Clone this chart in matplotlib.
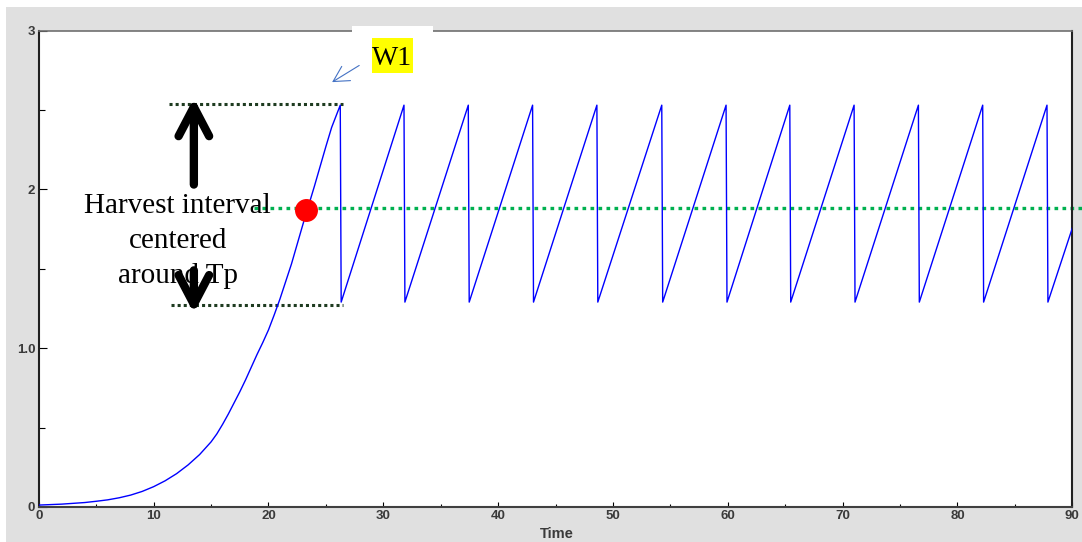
import matplotlib
matplotlib.use("Agg")
import matplotlib.pyplot as plt
from matplotlib.patches import Rectangle, FancyArrowPatch

# growth phase (time, biomass)
grow_t = [0, 1, 2, 3, 4, 5, 6, 7, 8, 9, 10, 11, 12, 13, 14, 14.5, 15, 15.5, 16, 16.5,
          17, 17.5, 18, 18.5, 19, 19.5, 20, 20.5, 21, 21.5, 22, 22.5, 23, 23.5, 24,
          24.5, 25, 25.5, 26.25]
grow_y = [0.012, 0.015, 0.018, 0.023, 0.028, 0.036, 0.045, 0.058, 0.075, 0.098, 0.128,
          0.165, 0.21, 0.265, 0.33, 0.37, 0.41, 0.46, 0.52, 0.585, 0.655, 0.725, 0.80,
          0.88, 0.96, 1.035, 1.115, 1.21, 1.31, 1.42, 1.53, 1.655, 1.78, 1.90, 2.02,
          2.145, 2.27, 2.39, 2.53]
# harvest times (peaks), upper and lower harvest level
harvest_t = [26.25, 31.8, 37.4, 43.0, 48.6, 54.25, 59.85, 65.4, 71.0, 76.6, 82.2, 87.8]
w_top = 2.53
w_low = 1.29
end_t, end_y = 90, 1.755
tp_level = 1.883
tp_point = (23.3, 1.87)
band_top, band_low = 2.535, 1.27

# build the sawtooth after the growth phase
t_all = list(grow_t)
y_all = list(grow_y)
for i, tp in enumerate(harvest_t):
    t_all.append(tp + 0.08)
    y_all.append(w_low)
    if i + 1 < len(harvest_t):
        t_all.append(harvest_t[i + 1])
        y_all.append(w_top)
t_all.append(end_t)
y_all.append(end_y)

fig = plt.figure(figsize=(10.82, 5.42), dpi=100, facecolor='white')
fig.patches.append(Rectangle((6 / 1082, 0), 1, (542 - 7) / 542, transform=fig.transFigure,
                             facecolor='#e0e0e0', edgecolor='none', zorder=-10))
ax = fig.add_axes([0.0359, 0.0646, 0.9551, 0.8791])
ax.set_facecolor('white')

ax.plot(t_all, y_all, color='#0000ff', lw=1.0, zorder=3)

# interval lines
ax.plot([11.3, 26.5], [band_top, band_top], color='#1e3b20', lw=2.2,
        linestyle=(0, (1, 1)), dash_capstyle='butt', zorder=2)
ax.plot([11.5, 26.5], [band_low, band_low], color='#1e3b20', lw=2.2,
        linestyle=(0, (1, 1)), dash_capstyle='butt', zorder=2)
ax.plot([18.7, 90.95], [tp_level, tp_level], color='#00b050', lw=2.4,
        linestyle=(0, (1.1, 1.3)), dash_capstyle='butt', zorder=2, clip_on=False)
ax.plot([tp_point[0]], [tp_point[1]], 'o', color='#ff0000', markersize=15.5, zorder=6)

ax.text(12.1, 1.675, 'Harvest interval\ncentered\naround Tp', family='Liberation Serif',
        fontsize=21, ha='center', va='center', linespacing=1.43, zorder=4)

for y0, y1 in [(2.03, band_top + 0.04), (1.49, band_low - 0.05)]:
    ax.add_patch(FancyArrowPatch((13.5, y0), (13.5, y1), arrowstyle='->,head_length=1.05,head_width=0.55',
                                 mutation_scale=20, lw=6, color='black', capstyle='round',
                                 joinstyle='round', shrinkA=0, shrinkB=0, zorder=5))

# W1 label
ax.add_patch(Rectangle((27.3, 2.80), 7.05, 0.23, facecolor='white', edgecolor='none',
                       clip_on=False, zorder=3))
ax.add_patch(Rectangle((29.0, 2.735), 3.55, 0.22, facecolor='#ffff00', edgecolor='none',
                       zorder=4))
ax.text(30.77, 2.781, 'W1', family='Liberation Serif', fontsize=20, ha='center',
        va='baseline', zorder=5)
ax.add_patch(FancyArrowPatch((27.9, 2.78), (25.54, 2.675), arrowstyle='->,head_length=0.55,head_width=0.3',
                             mutation_scale=20, lw=0.8, color='#4472c4', shrinkA=0, shrinkB=0,
                             clip_on=False, zorder=4))

ax.set_xlim(0, 90)
ax.set_ylim(0, 3)
ax.set_xticks([0, 10, 20, 30, 40, 50, 60, 70, 80, 90])
ax.set_xticks([5, 15, 25, 35, 45, 55, 65, 75, 85], minor=True)
ax.set_yticks([0, 1, 2, 3])
ax.set_yticklabels(['0', '1.0', '2', '3'])
ax.set_yticks([0.5, 1.5, 2.5], minor=True)
ax.tick_params(axis='x', which='major', direction='in', length=3.6, width=0.8, pad=2.5)
ax.tick_params(axis='x', which='minor', direction='in', length=2.2, width=0.8)
ax.tick_params(axis='y', which='major', direction='in', length=6, width=0.8, pad=2.5)
ax.tick_params(axis='y', which='minor', direction='in', length=4.3, width=0.8)
for lab in ax.get_xticklabels() + ax.get_yticklabels():
    lab.set_family('Liberation Sans')
    lab.set_fontweight('bold')
    lab.set_fontsize(9.5)
    lab.set_color('#3a3a3a')
ax.set_xlabel('Time', family='Liberation Sans', fontweight='bold', fontsize=10.5,
              color='#3a3a3a')
ax.xaxis.set_label_coords(0.501, -0.043)

ax.spines['left'].set_color('#202020')
ax.spines['left'].set_linewidth(1.5)
ax.spines['bottom'].set_color('#404040')
ax.spines['bottom'].set_linewidth(1.5)
ax.spines['right'].set_color('#202020')
ax.spines['right'].set_linewidth(1.5)
ax.spines['top'].set_color('#707070')
ax.spines['top'].set_linewidth(1.2)

fig.savefig('out.png', dpi=100, facecolor=fig.get_facecolor())
